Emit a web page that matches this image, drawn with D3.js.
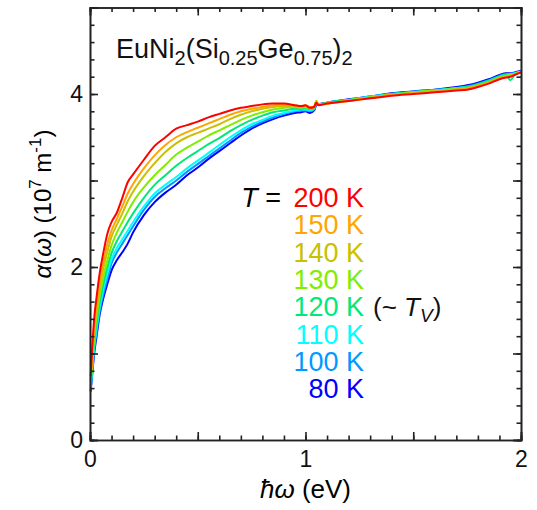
<!DOCTYPE html>
<html>
<head>
<meta charset="utf-8">
<script src="https://cdn.jsdelivr.net/npm/d3@7"></script>
<style>
  body { margin: 0; background: #fff; }
  text { font-family: "Liberation Sans", Arial, sans-serif; }
</style>
</head>
<body>
<div id="my_chart"></div>
<script>
// photon energy (eV), shared by every temperature
const eV = [0.003,0.01,0.02,0.03,0.045,0.06,0.08,0.1,0.125,0.15,0.175,0.2,0.25,0.3,0.35,0.4,0.45,0.5,0.55,0.6,
  0.65,0.7,0.75,0.8,0.85,0.9,0.95,0.98,1.0,1.02,1.04,1.05,1.06,1.1,1.2,1.3,1.4,1.5,1.6,1.7,
  1.75,1.8,1.85,1.9,1.93,1.95,1.97,2.0];

// alpha(omega) in 10^7 m^-1
const a200 = [0.74,1.05,1.42,1.64,1.93,2.14,2.38,2.52,2.63,2.80,2.98,3.07,3.24,3.40,3.50,3.60,3.64,3.68,3.73,3.77,
  3.81,3.84,3.86,3.88,3.89,3.89,3.87,3.86,3.87,3.84,3.85,3.90,3.87,3.89,3.92,3.95,3.98,4.00,4.02,4.04,
  4.05,4.08,4.12,4.17,4.19,4.20,4.22,4.25];
const a150 = [0.70,0.99,1.33,1.55,1.83,2.03,2.26,2.42,2.56,2.70,2.85,2.96,3.14,3.29,3.41,3.50,3.56,3.61,3.66,3.71,
  3.76,3.80,3.83,3.85,3.87,3.88,3.87,3.86,3.87,3.85,3.85,3.91,3.88,3.89,3.92,3.95,3.99,4.01,4.03,4.05,
  4.06,4.09,4.13,4.18,4.20,4.21,4.23,4.25];
const a140 = [0.68,0.95,1.28,1.49,1.76,1.96,2.17,2.35,2.49,2.62,2.76,2.87,3.05,3.20,3.33,3.43,3.50,3.55,3.60,3.65,
  3.71,3.76,3.80,3.83,3.85,3.86,3.86,3.85,3.86,3.84,3.85,3.92,3.88,3.89,3.92,3.96,3.99,4.01,4.03,4.05,
  4.07,4.10,4.13,4.18,4.20,4.21,4.23,4.25];
const a130 = [0.66,0.90,1.21,1.41,1.67,1.86,2.07,2.25,2.40,2.52,2.64,2.75,2.92,3.06,3.18,3.30,3.38,3.45,3.52,3.58,
  3.64,3.70,3.75,3.79,3.82,3.84,3.85,3.84,3.85,3.83,3.84,3.92,3.88,3.89,3.93,3.96,3.99,4.02,4.04,4.06,
  4.07,4.10,4.14,4.19,4.21,4.22,4.23,4.25];
const a120 = [0.62,0.85,1.15,1.34,1.59,1.78,1.99,2.16,2.30,2.41,2.52,2.62,2.80,2.95,3.06,3.17,3.26,3.34,3.42,3.49,
  3.57,3.64,3.70,3.75,3.79,3.81,3.83,3.83,3.84,3.82,3.84,3.90,3.88,3.90,3.93,3.96,4.00,4.02,4.04,4.06,
  4.08,4.11,4.15,4.20,4.22,4.16,4.22,4.25];
const a110 = [0.60,0.81,1.09,1.28,1.53,1.72,1.92,2.09,2.22,2.32,2.42,2.52,2.70,2.85,2.95,3.04,3.14,3.23,3.32,3.41,
  3.50,3.58,3.65,3.70,3.75,3.78,3.81,3.82,3.82,3.81,3.83,3.89,3.88,3.90,3.93,3.97,4.00,4.02,4.04,4.07,
  4.08,4.11,4.15,4.20,4.22,4.23,4.24,4.26];
const a100 = [0.58,0.78,1.05,1.24,1.49,1.67,1.86,2.04,2.17,2.27,2.37,2.47,2.66,2.81,2.91,3.00,3.10,3.19,3.28,3.37,
  3.46,3.55,3.62,3.68,3.73,3.77,3.80,3.81,3.81,3.80,3.82,3.88,3.88,3.90,3.93,3.97,4.00,4.03,4.05,4.07,
  4.09,4.12,4.16,4.21,4.23,4.23,4.24,4.26];
const a80 = [0.56,0.75,1.01,1.19,1.45,1.62,1.80,1.96,2.08,2.17,2.27,2.40,2.60,2.75,2.86,2.95,3.06,3.15,3.25,3.34,
  3.43,3.52,3.60,3.66,3.71,3.75,3.78,3.79,3.80,3.78,3.81,3.87,3.88,3.90,3.94,3.97,4.01,4.03,4.05,4.08,
  4.10,4.13,4.17,4.22,4.24,4.24,4.25,4.27];

const temps = ["200 K", "150 K", "140 K", "130 K", "120 K", "110 K", "100 K", "80 K"];
const colors = ["#ff0000", "#ffa500", "#c8c000", "#80ee00", "#00e87a", "#00ffff", "#0099ff", "#0000ff"];
const series = [a200, a150, a140, a130, a120, a110, a100, a80];

const xTicks = [0, 1, 2];
const yTicks = [0, 2, 4];

// dimensions
const margin = { top: 7.5, right: 16, bottom: 70, left: 90 },
    width = 537 - margin.left - margin.right,
    height = 510 - margin.top - margin.bottom;

const svg = d3.select("#my_chart")
    .append("svg")
    .attr("width", 537)
    .attr("height", 510)
    .append("g")
    .attr("transform", `translate(${margin.left},${margin.top})`);

const x = d3.scaleLinear().domain([0, 2]).range([0, width]);
const y = d3.scaleLinear().domain([0, 5]).range([height, 0]);

// curves, low temperature first so red sits on top
const line = d3.line()
    .x((d, i) => x(eV[i]))
    .y(d => y(d))
    .curve(d3.curveMonotoneX);

svg.selectAll(".curve")
    .data(series.map((s, i) => ({ s, c: colors[i] })).reverse())
    .join("path")
    .attr("class", "curve")
    .attr("d", d => line(d.s))
    .attr("fill", "none")
    .attr("stroke", d => d.c)
    .attr("stroke-width", 2);

// axes: inward ticks on all four sides
const axisColor = "#222";
function styleAxis(g) {
    g.selectAll("path, line").attr("stroke", axisColor).attr("stroke-width", 1.6);
    g.selectAll("text").attr("font-size", 23).attr("fill", "#111");
}
const xMinor = d3.range(0, 2.001, 0.1), xMajor = d3.range(0, 2.001, 0.5);
const yMinor = d3.range(0, 5.001, 0.2), yMajor = d3.range(0, 5.001, 1);

svg.append("g").attr("transform", `translate(0,${height})`)
    .call(d3.axisBottom(x).tickValues(xMinor).tickSize(-4.5).tickFormat(""))
    .call(styleAxis);
svg.append("g").attr("transform", `translate(0,${height})`)
    .call(d3.axisBottom(x).tickValues(xMajor).tickSize(-8)
        .tickFormat(d => xTicks.includes(d) ? d3.format("d")(d) : "").tickPadding(11))
    .call(styleAxis);
svg.append("g")
    .call(d3.axisTop(x).tickValues(xMinor).tickSize(-4.5).tickFormat(""))
    .call(styleAxis);
svg.append("g")
    .call(d3.axisTop(x).tickValues(xMajor).tickSize(-8).tickFormat(""))
    .call(styleAxis);
svg.append("g")
    .call(d3.axisLeft(y).tickValues(yMinor).tickSize(-4.5).tickFormat(""))
    .call(styleAxis);
svg.append("g")
    .call(d3.axisLeft(y).tickValues(yMajor).tickSize(-8)
        .tickFormat(d => yTicks.includes(d) ? d3.format("d")(d) : "").tickPadding(7))
    .call(styleAxis);
svg.append("g").attr("transform", `translate(${width},0)`)
    .call(d3.axisRight(y).tickValues(yMinor).tickSize(-4.5).tickFormat(""))
    .call(styleAxis);
svg.append("g").attr("transform", `translate(${width},0)`)
    .call(d3.axisRight(y).tickValues(yMajor).tickSize(-8).tickFormat(""))
    .call(styleAxis);

// axis titles
const xl = svg.append("text")
    .attr("x", x(1))
    .attr("y", height + 58)
    .attr("text-anchor", "middle")
    .attr("font-size", 26);
xl.append("tspan").attr("font-style", "italic").text("ħω");
xl.append("tspan").text(" (eV)");

const yl = svg.append("text")
    .attr("transform", `translate(${51 - margin.left},${204 - margin.top}) rotate(-90)`)
    .attr("text-anchor", "middle")
    .attr("font-size", 24);
yl.append("tspan").attr("font-style", "italic").text("α");
yl.append("tspan").text("(");
yl.append("tspan").attr("font-style", "italic").text("ω");
yl.append("tspan").text(") (10");
yl.append("tspan").attr("font-size", 17).attr("dy", -10).text("7");
yl.append("tspan").attr("dy", 10).text(" m");
yl.append("tspan").attr("font-size", 17).attr("dy", -10).text("-1");
yl.append("tspan").attr("dy", 10).text(")");

// compound name
const title = svg.append("text")
    .attr("x", 116 - margin.left)
    .attr("y", 58 - margin.top)
    .attr("font-size", 27)
    .attr("fill", "#111");
[["EuNi", 0], ["2", 1], ["(Si", 0], ["0.25", 1], ["Ge", 0], ["0.75", 1], [")", 0], ["2", 1]]
    .forEach(([t, sub], i, arr) => {
        const prevSub = i > 0 ? arr[i - 1][1] : 0;
        title.append("tspan")
            .attr("font-size", sub ? 20 : 27)
            .attr("dy", sub === prevSub ? 0 : (sub ? 7 : -7))
            .text(t);
    });

// temperature legend
const legX = 364 - margin.left, legY0 = 207 - margin.top, legStep = 27.3;
svg.append("text")
    .attr("x", 281 - margin.left)
    .attr("y", legY0)
    .attr("text-anchor", "end")
    .attr("font-size", 27)
    .html('<tspan font-style="italic">T</tspan> =');
svg.selectAll(".leg")
    .data(temps)
    .join("text")
    .attr("class", "leg")
    .attr("x", legX)
    .attr("y", (d, i) => legY0 + i * legStep)
    .attr("text-anchor", "end")
    .attr("font-size", 27)
    .attr("fill", (d, i) => colors[i])
    .text(d => d);

const tv = svg.append("text")
    .attr("x", 373 - margin.left)
    .attr("y", legY0 + 4 * legStep)
    .attr("font-size", 26)
    .attr("fill", "#111");
tv.append("tspan").text("(~ ");
tv.append("tspan").attr("font-style", "italic").text("T");
tv.append("tspan").attr("font-style", "italic").attr("font-size", 19).attr("dy", 6).text("V");
tv.append("tspan").attr("dy", -6).text(")");
</script>
</body>
</html>
